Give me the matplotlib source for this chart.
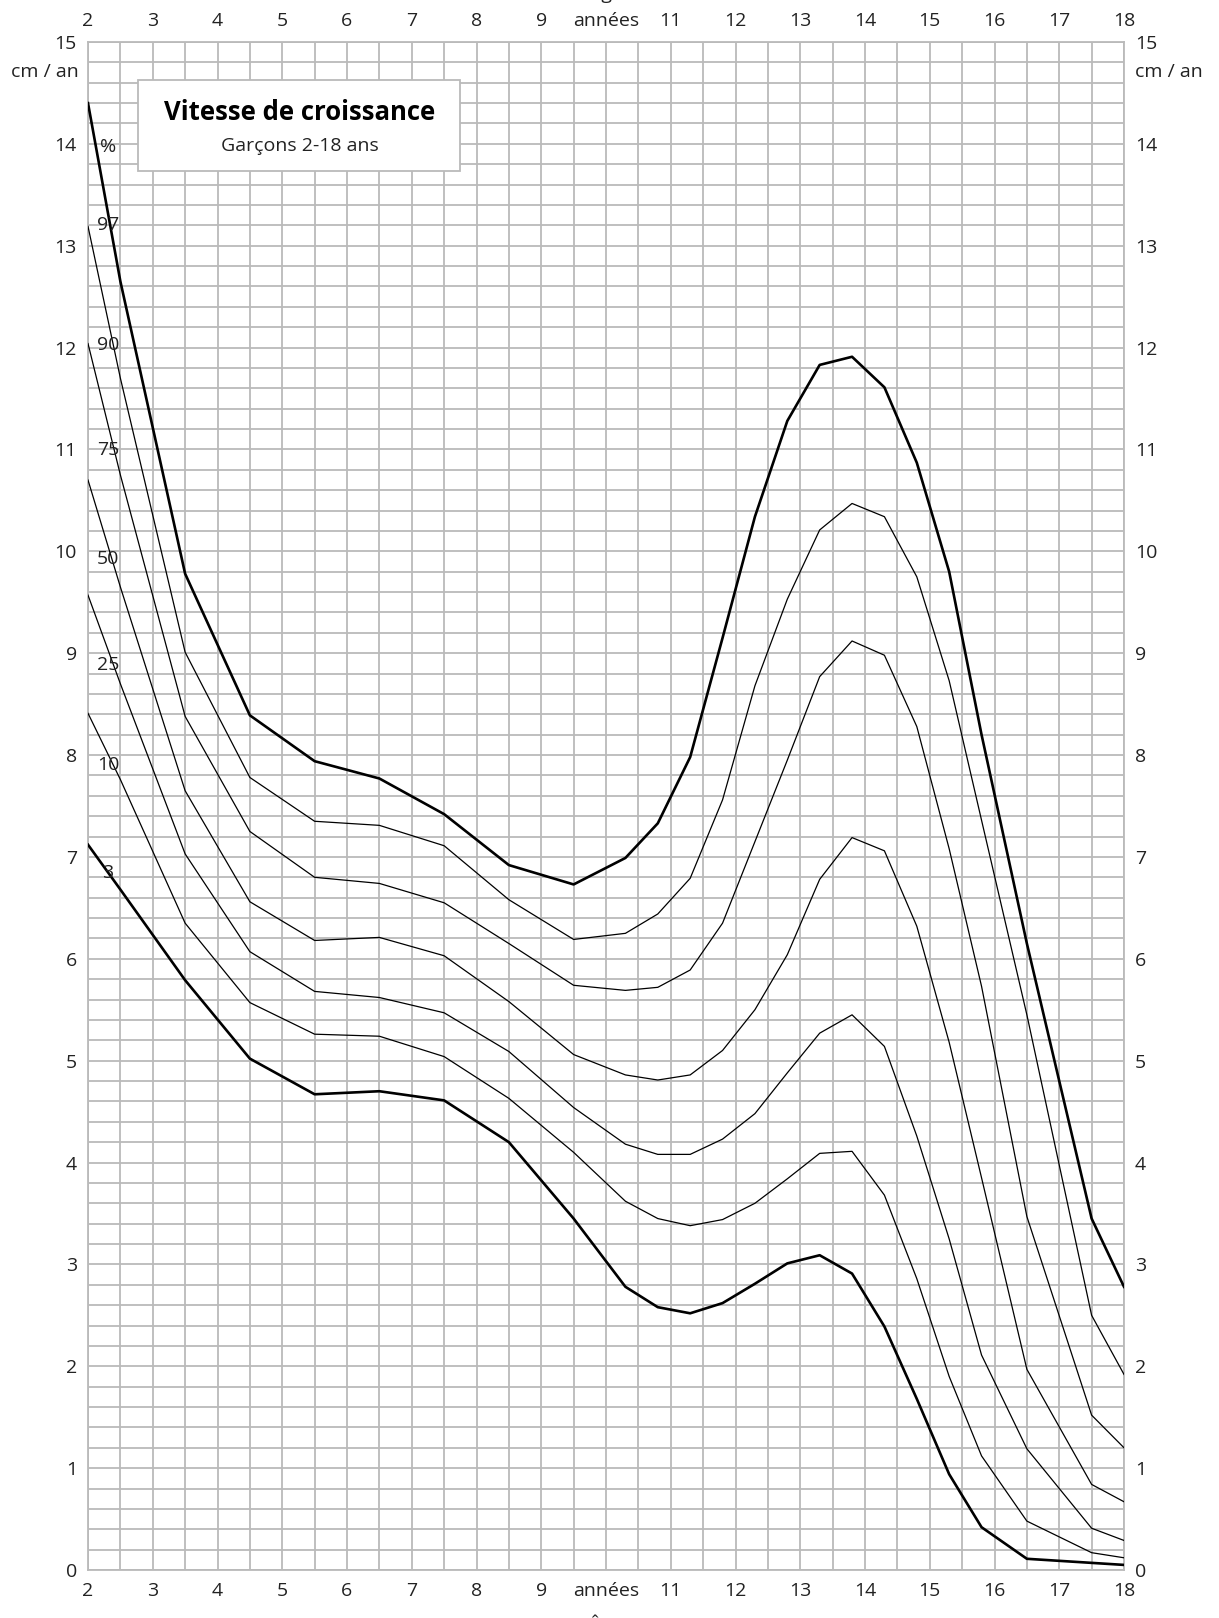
"""Vitesse de croissance, garçons 2-18 ans (percentile chart)."""

import numpy as np
import matplotlib
matplotlib.use("Agg")
import matplotlib.pyplot as plt

plt.rcParams["font.family"] = ["Open Sans", "DejaVu Sans"]

INK = "#222222"
GRID = "#bababa"

# node ages (years) and velocity percentiles (cm / an)
ages = [2, 2.5, 3.5, 4.5, 5.5, 6.5, 7.5, 8.5, 9.5, 10.3, 10.8, 11.3, 11.8,
        12.3, 12.8, 13.3, 13.8, 14.3, 14.8, 15.3, 15.8, 16.5, 17.5, 18]
p97 = [14.4, 12.65, 9.78, 8.39, 7.94, 7.77, 7.42, 6.92, 6.73, 6.99, 7.33, 7.98, 9.15,
       10.34, 11.28, 11.83, 11.91, 11.61, 10.87, 9.8, 8.2, 6.15, 3.45, 2.78]
p90 = [13.19, 11.7, 9.01, 7.78, 7.35, 7.31, 7.11, 6.58, 6.19, 6.25, 6.44, 6.79, 7.56,
       8.68, 9.53, 10.21, 10.47, 10.34, 9.75, 8.73, 7.36, 5.45, 2.5, 1.92]
p75 = [12.04, 10.75, 8.38, 7.25, 6.80, 6.74, 6.55, 6.15, 5.74, 5.69, 5.72, 5.89, 6.35,
       7.15, 7.95, 8.77, 9.12, 8.98, 8.28, 7.08, 5.73, 3.47, 1.52, 1.2]
p50 = [10.7, 9.65, 7.65, 6.56, 6.18, 6.21, 6.03, 5.58, 5.06, 4.86, 4.81, 4.86, 5.10,
       5.50, 6.04, 6.78, 7.19, 7.06, 6.32, 5.18, 3.85, 1.97, 0.84, 0.67]
p25 = [9.57, 8.7, 7.03, 6.07, 5.68, 5.62, 5.47, 5.09, 4.54, 4.18, 4.08, 4.08, 4.23,
       4.48, 4.88, 5.27, 5.45, 5.14, 4.26, 3.25, 2.11, 1.19, 0.41, 0.29]
p10 = [8.41, 7.76, 6.35, 5.57, 5.26, 5.24, 5.04, 4.63, 4.1, 3.62, 3.45, 3.38, 3.44,
       3.60, 3.84, 4.09, 4.11, 3.68, 2.86, 1.9, 1.12, 0.48, 0.17, 0.12]
p3 = [7.12, 6.68, 5.79, 5.02, 4.67, 4.70, 4.61, 4.20, 3.45, 2.78, 2.58, 2.52, 2.62,
      2.81, 3.01, 3.09, 2.91, 2.39, 1.68, 0.94, 0.42, 0.11, 0.07, 0.05]

curves = [("97", p97), ("90", p90), ("75", p75), ("50", p50),
          ("25", p25), ("10", p10), ("3", p3)]
thick = {"97", "3"}

# labels of the percentiles along the left edge
label_text = ["%", "97", "90", "75", "50", "25", "10", "3"]
label_y = [13.97, 13.2, 12.03, 10.99, 9.92, 8.88, 7.9, 6.84]

x_labels = [str(a) if a != 10 else "années" for a in range(2, 19)]
y_labels = [str(v) for v in range(0, 16)]

fig = plt.figure(figsize=(12.19, 16.18), dpi=100)
ax = fig.add_axes([88 / 1219, 48 / 1618, 1036 / 1219, 1528 / 1618])

ax.set_xlim(2, 18)
ax.set_ylim(0, 15)

# millimetre-paper style grid: every half year, every 0.2 cm/an
ax.set_xticks(range(2, 19))
ax.set_xticklabels(x_labels)
ax.set_yticks(range(0, 16))
ax.set_yticklabels(y_labels)
ax.set_xticks(np.round(np.arange(2, 18.01, 0.5), 2), minor=True)
ax.set_yticks(np.round(np.arange(0, 15.01, 0.2), 2), minor=True)
ax.grid(True, which="both", color=GRID, lw=1.3, zorder=0)
ax.set_axisbelow(True)
for spine in ax.spines.values():
    spine.set_color(GRID)
    spine.set_linewidth(1.3)

ax.tick_params(which="both", length=0)
ax.tick_params(axis="x", labeltop=True, labelbottom=True, pad=9,
               labelsize=14, labelcolor=INK)
ax.tick_params(axis="y", labelleft=True, labelright=True, pad=8,
               labelsize=14, labelcolor=INK)

for name, vals in curves:
    ax.plot(ages, vals, color="black", lw=1.9 if name in thick else 0.9,
            solid_joinstyle="round", zorder=3)

for txt, y in zip(label_text, label_y):
    ax.text(2.31, y, txt, ha="center", va="center", fontsize=14,
            color=INK, zorder=4)

# unit labels under the top tick values
ax.annotate("cm / an", (2, 14.71), xytext=(-7, 0), textcoords="offset points",
            ha="right", va="center", fontsize=14, color=INK, annotation_clip=False)
ax.annotate("cm / an", (18, 14.71), xytext=(8, 0), textcoords="offset points",
            ha="left", va="center", fontsize=14, color=INK, annotation_clip=False)

# title box
box = plt.Rectangle((2.77, 13.73), 7.745 - 2.77, 14.63 - 13.73, facecolor="white",
                    edgecolor=GRID, lw=1.3, zorder=5)
ax.add_patch(box)
ax.text(5.27, 14.31, "Vitesse de croissance", ha="center", va="center",
        fontsize=18.5, fontweight="bold", color="black", zorder=6)
ax.text(5.27, 13.98, "Garçons 2-18 ans", ha="center", va="center",
        fontsize=14, color=INK, zorder=6)

# axis caption cut by the page edges, as on the printed sheet
fig.text(606 / 1219, 1 - 1614 / 1618, "Âge", ha="center", va="top",
         fontsize=14, color=INK)
fig.text(606 / 1219, 1 - 3 / 1618, "Âge", ha="center", va="bottom",
         fontsize=14, color=INK)

fig.savefig("out.png", dpi=100, facecolor="white")
